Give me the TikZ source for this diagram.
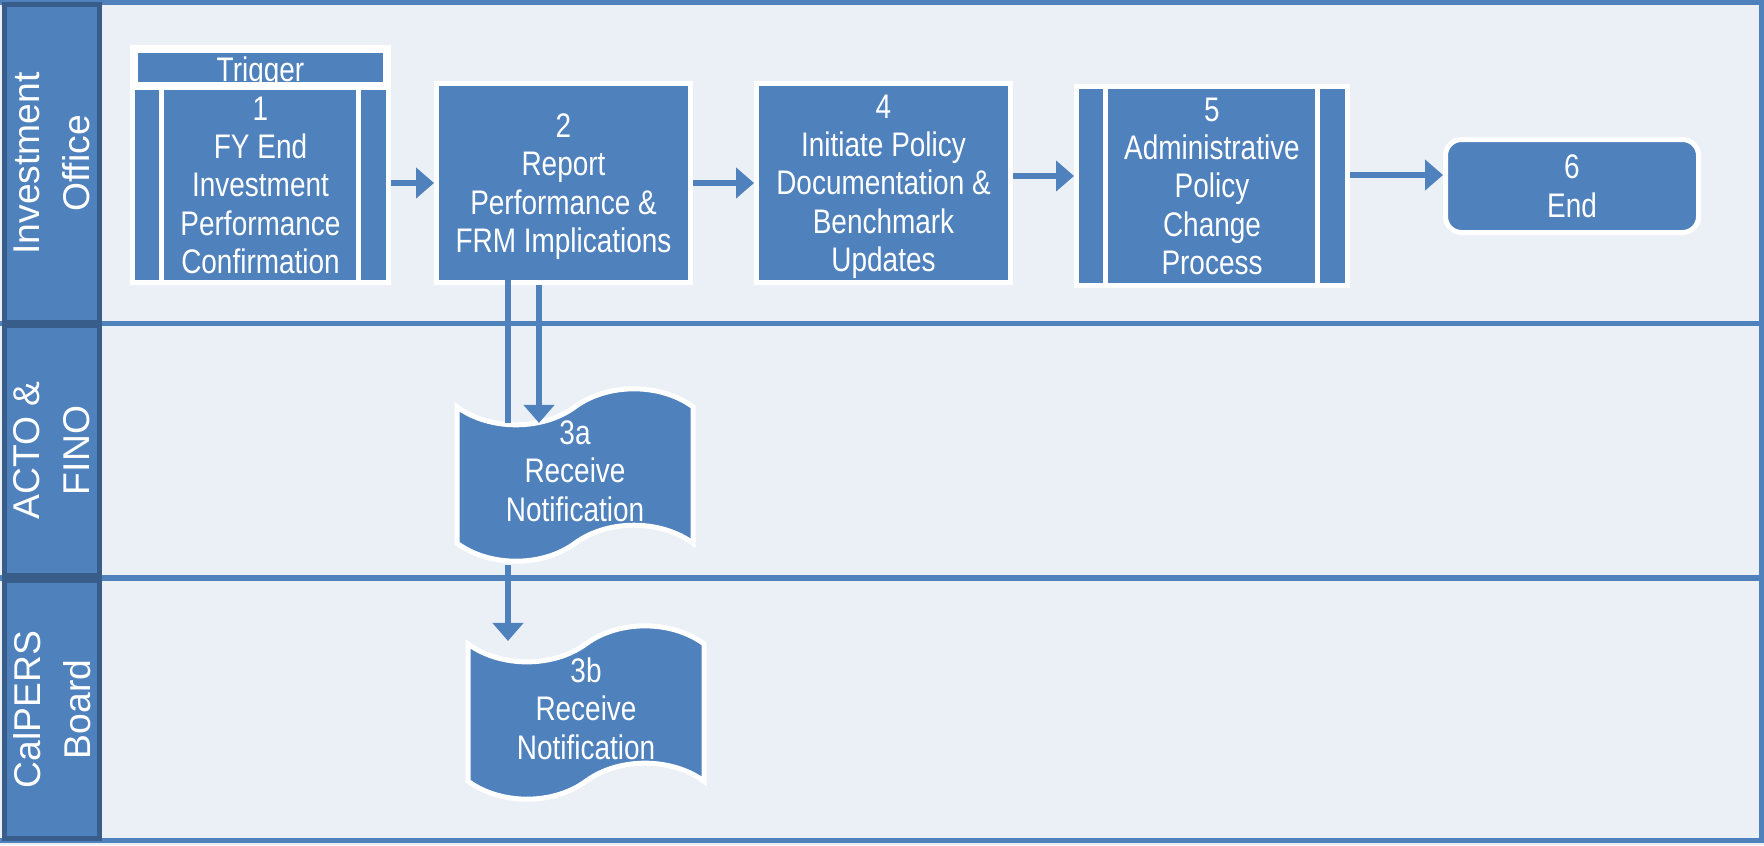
\documentclass[tikz,border=0pt]{standalone}
\usepackage{fontspec}
\setmainfont{Liberation Sans}
\newfontfamily\narrowfont{Liberation Sans}[FakeStretch=0.82]
\usepackage{tikz}
\usetikzlibrary{arrows.meta,positioning,shapes.symbols}
\definecolor{bb}{RGB}{79,129,189}
\definecolor{dkb}{RGB}{56,93,138}
\definecolor{lbg}{RGB}{235,240,247}
\tikzset{
  lane_head/.style={
    draw=dkb,
    fill=bb,
    line width=0.5mm,
    text=white,
    rotate=90,
    align=center,
    inner sep=0pt,
    font=\fontsize{10.6}{14.2}\selectfont
  },
  lane_line/.style={draw=bb, line width=0.55mm},
  box_base/.style={
    draw=white,
    fill=bb,
    line width=0.5mm,
    text=white,
    align=center,
    inner sep=0pt,
    text depth=0pt,
    font=\narrowfont\fontsize{9.7}{10.9}\selectfont
  },
  proc_box/.style={box_base, minimum width=2.54cm, minimum height=1.99cm},
  doc_box/.style={box_base, tape, minimum width=2.36cm, tape bend height=0.36cm,
    text depth=0.08cm, inner ysep=-0.04cm},
  end_box/.style={box_base, rounded corners=1.6mm, minimum width=2.53cm, minimum height=0.93cm},
  flow_line/.style={draw=bb, line width=0.55mm},
  flow_arrow/.style={flow_line, -{Triangle[width=3mm,length=1.8mm]}}
}

\begin{document}
\begin{tikzpicture}
\useasboundingbox (0,0) rectangle (17.64,-8.45);
\fill[lbg] (0,0) rectangle (17.64,-8.45);
% lanes
\draw[lane_line] (0,-0.025) -- (17.615,-0.025) -- (17.615,-8.405) -- (0,-8.405);
\foreach \y in {-3.235,-5.78}{
\draw[lane_line] (0,\y) -- (17.64,\y);
}
\node[lane_head, minimum width=3.18cm, minimum height=0.95cm] (io) at (0.52,-1.635) {Investment\\Office};
\node[lane_head, minimum width=2.5cm, minimum height=0.95cm] (af) at (0.52,-4.505) {ACTO \&\\FINO};
\node[lane_head, minimum width=2.58cm, minimum height=0.95cm] (cb) at (0.52,-7.095) {CalPERS\\Board};

% process steps
\node[box_base, line width=0.8mm, minimum width=2.53cm, minimum height=0.37cm, text height=8pt] (trig) at (2.605,-0.675) {Trigger};
\node[proc_box, minimum width=2.56cm, minimum height=1.95cm] (b1) at (2.605,-1.85) {1\\FY End\\Investment\\Performance\\Confirmation};
\node[proc_box] (b2) at (5.635,-1.83) {2\\Report\\Performance \&\\FRM Implications};
\node[proc_box] (b4) at (8.835,-1.83) {4\\Initiate Policy\\Documentation \&\\Benchmark\\Updates};
\node[proc_box, minimum width=2.71cm] (b5) at (12.12,-1.86) {5\\Administrative\\Policy\\Change\\Process};
\node[end_box] (b6) at (15.72,-1.86) {6\\End};
\node[doc_box] (d3a) at (5.75,-4.75) {3a\\Receive\\Notification};
\node[doc_box] (d3b) at (5.86,-7.125) {3b\\Receive\\Notification};

% side bars of the sub-process boxes
\foreach \n in {b1,b5}{
\draw[white, line width=0.5mm] ([xshift=0.31cm]\n.north west) -- ([xshift=0.31cm]\n.south west);
\draw[white, line width=0.5mm] ([xshift=-0.33cm]\n.north east) -- ([xshift=-0.33cm]\n.south east);
}

% flow
\draw[flow_arrow] ([yshift=0.02cm]b1.east) -- ([yshift=0.02cm]b1.east -| b2.west);
\draw[flow_arrow] (b2) -- (b4);
\draw[flow_arrow] ([yshift=0.07cm]b4.east) -- ([yshift=0.07cm]b4.east -| b5.west);
\draw[flow_arrow] ([yshift=0.11cm]b5.east) -- ([yshift=0.11cm]b5.east -| b6.west);
\draw[flow_arrow, shorten >=-0.19cm] ([xshift=-0.245cm]b2.south) -- ([xshift=-0.245cm]b2.south |- d3a.north);
\draw[flow_line, shorten >=-0.19cm] ([xshift=-0.555cm,yshift=0.07cm]b2.south) -- ([xshift=-0.555cm]b2.south |- d3a.north);
\draw[flow_arrow, shorten <=0.19cm] ([xshift=-0.67cm]d3a.south) -- ([xshift=-0.67cm]d3a.south |- d3b.north);
\end{tikzpicture}
\end{document}
